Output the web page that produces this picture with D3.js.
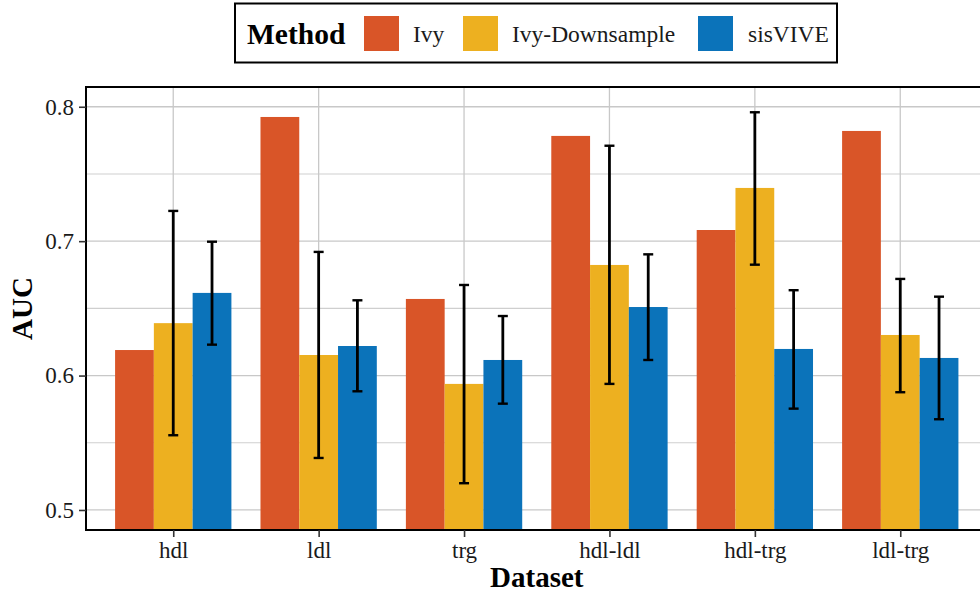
<!DOCTYPE html>
<html><head><meta charset="utf-8">
<script src="https://cdn.jsdelivr.net/npm/d3@7"></script>
<style>body{margin:0;background:#fff;}svg{display:block;}</style>
</head><body>
<svg id="c" width="980" height="594"></svg>
<script>
const categories = ["hdl","ldl","trg","hdl-ldl","hdl-trg","ldl-trg"];
const methods = ["Ivy","Ivy-Downsample","sisVIVE"];
const colors = ["#D95528","#EDB020","#0B73BA"];
const ivyAUC = [0.619,0.7924,0.657,0.7783,0.7083,0.782];
const downAUC = [0.639,0.6153,0.5938,0.6823,0.7396,0.6302];
const downLow = [0.5556,0.5387,0.5199,0.5938,0.6825,0.5876];
const downHigh = [0.7225,0.692,0.6674,0.771,0.7959,0.6719];
const sisAUC = [0.6615,0.622,0.6116,0.651,0.6198,0.6131];
const sisLow = [0.623,0.5883,0.5791,0.6116,0.5754,0.5675];
const sisHigh = [0.6996,0.656,0.6443,0.6902,0.6635,0.6587];
const yTicks = [0.5,0.6,0.7,0.8];
const yMinor = [0.55,0.65,0.75];

const svg = d3.select("#c");
const L = 86, R = 987.5, T = 87, B = 530;
const x = d3.scalePoint().domain(categories).range([L,R]).padding(0.6);
const step = x.step();
const groupW = step*0.8;
const xs = d3.scaleBand().domain(methods).range([-groupW/2, groupW/2]).padding(0);
const y = d3.scaleLinear().domain([0.4851,0.8147]).range([B,T]);
const font = "'Liberation Serif','Times New Roman',serif";

const grid = svg.append("g");
grid.selectAll(".mn").data(yMinor).join("line")
  .attr("x1",L).attr("x2",R).attr("y1",d=>y(d)).attr("y2",d=>y(d))
  .attr("stroke","#cfcfcf").attr("stroke-width",1.1);
grid.selectAll(".mj").data(yTicks).join("line")
  .attr("x1",L).attr("x2",R).attr("y1",d=>y(d)).attr("y2",d=>y(d))
  .attr("stroke","#c8c8c8").attr("stroke-width",1.3);
grid.selectAll(".vx").data(categories).join("line")
  .attr("x1",d=>x(d)).attr("x2",d=>x(d)).attr("y1",T).attr("y2",B)
  .attr("stroke","#c8c8c8").attr("stroke-width",1.3);

const series = [ivyAUC, downAUC, sisAUC];
const bars = svg.append("g");
methods.forEach((m,mi)=>{
  bars.selectAll(".b"+mi).data(categories).join("rect")
    .attr("x",c=>x(c)+xs(m))
    .attr("width",xs.bandwidth())
    .attr("y",(c,i)=>y(series[mi][i]))
    .attr("height",(c,i)=>B-y(series[mi][i]))
    .attr("fill",colors[mi]);
});

const errs = [[null,null],[downLow,downHigh],[sisLow,sisHigh]];
const eg = svg.append("g").attr("stroke","#000");
[1,2].forEach(mi=>{
  const [lo,hi] = errs[mi];
  categories.forEach((c,i)=>{
    const cx = x(c)+xs(methods[mi])+xs.bandwidth()/2;
    eg.append("line").attr("x1",cx).attr("x2",cx).attr("y1",y(lo[i])).attr("y2",y(hi[i])).attr("stroke-width",2.8);
    [lo[i],hi[i]].forEach(v=>{
      eg.append("line").attr("x1",cx-5).attr("x2",cx+5).attr("y1",y(v)).attr("y2",y(v)).attr("stroke-width",2.4);
    });
  });
});

// panel border
svg.append("rect").attr("x",L).attr("y",T).attr("width",R-L).attr("height",B-T)
  .attr("fill","none").attr("stroke","#000").attr("stroke-width",2);

// axes
const ya = svg.append("g").attr("transform",`translate(${L},0)`)
  .call(d3.axisLeft(y).tickValues(yTicks).tickFormat(d3.format(".1f")).tickSize(7).tickPadding(5));
ya.select(".domain").remove();
ya.selectAll(".tick line").attr("stroke","#333").attr("stroke-width",1.6);
ya.selectAll(".tick text").attr("font-family",font).attr("font-size",23).attr("fill","#1a1a1a");

const xa = svg.append("g").attr("transform",`translate(0,${B})`)
  .call(d3.axisBottom(x).tickSize(7).tickPadding(5));
xa.select(".domain").remove();
xa.selectAll(".tick line").attr("stroke","#333").attr("stroke-width",1.6);
xa.selectAll(".tick text").attr("font-family",font).attr("font-size",23).attr("fill","#1a1a1a");

svg.append("text").attr("x",(L+R)/2).attr("y",587).attr("text-anchor","middle")
  .attr("font-family",font).attr("font-weight","bold").attr("font-size",29).text("Dataset");
svg.append("text").attr("transform",`translate(32,${(T+B)/2}) rotate(-90)`).attr("text-anchor","middle")
  .attr("font-family",font).attr("font-weight","bold").attr("font-size",29).text("AUC");

// legend
const lg = svg.append("g");
lg.append("rect").attr("x",235).attr("y",3.5).attr("width",602).attr("height",59)
  .attr("fill","#fff").attr("stroke","#000").attr("stroke-width",2);
lg.append("text").attr("x",247).attr("y",44).attr("font-family",font).attr("font-weight","bold")
  .attr("font-size",29.5).text("Method");
const keyX = [364,463,698];
const labX = [413,512,748];
methods.forEach((m,i)=>{
  lg.append("rect").attr("x",keyX[i]).attr("y",16).attr("width",35).attr("height",35).attr("fill",colors[i]);
  lg.append("text").attr("x",labX[i]).attr("y",42).attr("font-family",font).attr("font-size",23.5)
    .attr("fill","#1a1a1a").text(m);
});
</script>
</body></html>
